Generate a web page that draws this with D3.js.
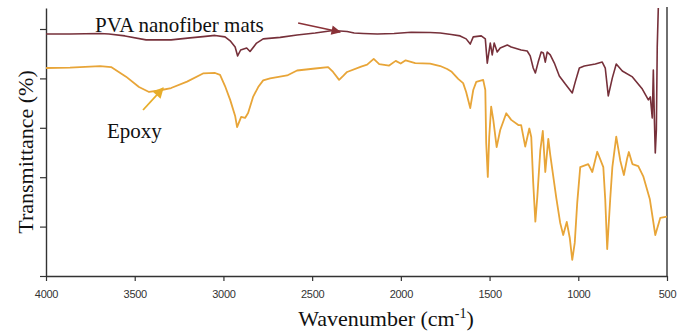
<!DOCTYPE html>
<html>
<head>
<meta charset="utf-8">
<script src="https://cdn.jsdelivr.net/npm/d3@7"></script>
<style>
  html, body { margin: 0; padding: 0; background: #fff; }
  svg { display: block; }
</style>
</head>
<body>
<div id="chart"></div>
<script>
// FTIR spectra
const xTicks = [4000, 3500, 3000, 2500, 2000, 1500, 1000, 500];
const yTicks = [0, 20, 40, 60, 80, 100];

const pvaWavenumber = [4000, 3865, 3695, 3645, 3555, 3436, 3295, 3188, 3115, 3047, 2991, 2962, 2934, 2920, 2903,
  2869, 2850, 2813, 2776, 2680, 2585, 2483, 2382, 2303, 2263, 2212, 2133, 2038, 1942, 1835, 1778, 1716, 1666,
  1632, 1609, 1592, 1547, 1524, 1513, 1496, 1485, 1474, 1457, 1440, 1400, 1378, 1322, 1288, 1271, 1254, 1242,
  1226, 1209, 1197, 1186, 1175, 1158, 1135, 1107, 1073, 1034, 1017, 994, 966, 904, 865, 848, 831, 808, 786,
  752, 695, 639, 605, 594, 583, 577, 571, 566, 560, 555, 549];
const pvaValue = [98.0, 98.0, 98.2, 98.0, 97.2, 95.6, 95.6, 96.4, 96.9, 97.4, 96.8, 95.2, 92.7, 89.1, 91.5,
  92.3, 90.9, 94.3, 96.0, 96.6, 97.6, 98.4, 99.4, 99.0, 98.4, 98.2, 98.0, 98.2, 98.7, 98.6, 98.4, 97.8, 97.2,
  96.0, 93.9, 96.8, 97.2, 96.0, 86.2, 94.3, 89.5, 94.3, 90.7, 92.3, 93.5, 92.7, 91.5, 91.1, 89.1, 84.2, 82.2,
  86.6, 90.7, 90.3, 86.6, 90.7, 89.5, 86.2, 81.0, 77.7, 74.1, 78.6, 84.2, 85.0, 85.8, 86.6, 84.2, 72.9, 80.2, 85.8,
  83.0, 80.6, 75.7, 71.3, 72.5, 64.0, 83.4, 63.2, 49.8, 59.1, 92.7, 108.5];

const epoxyWavenumber = [4000, 3865, 3695, 3633, 3549, 3476, 3419, 3363, 3295, 3205, 3115, 3047, 3019, 2991, 2962,
  2934, 2923, 2900, 2878, 2861, 2833, 2804, 2776, 2737, 2641, 2585, 2483, 2410, 2382, 2348, 2325, 2303, 2224,
  2190, 2153, 2122, 2066, 2029, 2001, 1973, 1919, 1835, 1778, 1739, 1716, 1677, 1649, 1632, 1609, 1592, 1575,
  1536, 1524, 1519, 1510, 1502, 1491, 1479, 1460, 1440, 1406, 1378, 1338, 1322, 1299, 1276, 1265, 1254, 1242,
  1231, 1214, 1200, 1186, 1169, 1158, 1124, 1102, 1085, 1065, 1048, 1034, 1020, 1006, 989, 944, 921, 893, 859,
  848, 837, 820, 808, 786, 763, 743, 724, 715, 695, 662, 633, 597, 566, 538, 500];
const epoxyValue = [84.2, 84.4, 85.0, 84.6, 80.7, 76.5, 74.5, 75.1, 76.1, 78.7, 82.0, 82.2, 81.4, 76.9, 71.3,
  64.8, 60.3, 64.4, 64.0, 66.0, 72.5, 76.5, 79.2, 80.0, 81.2, 83.2, 84.0, 84.6, 82.6, 79.4, 81.0, 82.6, 84.8,
  85.6, 87.9, 85.8, 85.2, 87.1, 86.0, 87.3, 86.2, 86.0, 85.0, 83.8, 82.8, 79.8, 78.1, 74.5, 68.0, 75.3, 78.6,
  79.4, 75.3, 53.9, 40.1, 56.3, 68.6, 63.2, 52.2, 59.1, 65.9, 63.2, 61.1, 61.1, 52.4, 59.7, 56.3, 37.7, 22.0,
  32.0, 51.0, 58.7, 42.1, 55.5, 49.0, 31.6, 21.5, 16.6, 21.9, 15.4, 6.5, 13.4, 29.6, 44.1, 45.3, 42.1, 50.3, 44.1,
  30.8, 10.9, 31.2, 44.1, 56.4, 46.6, 40.9, 47.8, 50.2, 45.3, 44.5, 40.2, 31.2, 16.6, 23.5, 24.0];

const pvaColor = '#76303a';
const epoxyColor = '#e8a538';

const width = 685;
const height = 331;
const margin = { top: 8, right: 18, bottom: 55, left: 46 };

const svg = d3.select('#chart').append('svg')
  .attr('width', width)
  .attr('height', height);

const x = d3.scaleLinear()
  .domain([4000, 500])
  .range([margin.left, width - margin.right]);

const y = d3.scaleLinear()
  .domain([0, 108.5])
  .range([height - margin.bottom, margin.top]);

// x axis
const xAxis = svg.append('g')
  .attr('transform', 'translate(0,' + y(0) + ')')
  .call(d3.axisBottom(x).tickValues(xTicks).tickFormat(d3.format('d'))
    .tickSize(5).tickSizeOuter(0).tickPadding(9));
xAxis.select('.domain').attr('stroke', '#333').attr('stroke-width', 1.4);
xAxis.selectAll('.tick line').attr('stroke', '#333').attr('stroke-width', 1.2);
xAxis.selectAll('.tick text')
  .attr('fill', '#333')
  .style('font-family', '"Liberation Sans", Arial, sans-serif')
  .style('font-size', '11px')
  .style('letter-spacing', '-0.3px');

// y axis, ticks only
const yAxis = svg.append('g')
  .attr('transform', 'translate(' + x(4000) + ',0)')
  .call(d3.axisLeft(y).tickValues(yTicks).tickSize(6).tickSizeOuter(0).tickFormat(''));
yAxis.select('.domain').attr('stroke', '#333').attr('stroke-width', 1.4);
yAxis.selectAll('.tick line').attr('stroke', '#333').attr('stroke-width', 1.2);

// right frame line
svg.append('line')
  .attr('x1', x(500)).attr('x2', x(500))
  .attr('y1', y(0)).attr('y2', y(108.5) - 1)
  .attr('stroke', '#333')
  .attr('stroke-width', 1.4);

const line = d3.line()
  .x(d => x(d[0]))
  .y(d => y(d[1]));

svg.append('path')
  .datum(d3.zip(epoxyWavenumber, epoxyValue))
  .attr('d', line)
  .attr('fill', 'none')
  .attr('stroke', epoxyColor)
  .attr('stroke-width', 1.8)
  .attr('stroke-linejoin', 'round');

svg.append('path')
  .datum(d3.zip(pvaWavenumber, pvaValue))
  .attr('d', line)
  .attr('fill', 'none')
  .attr('stroke', pvaColor)
  .attr('stroke-width', 1.6)
  .attr('stroke-linejoin', 'round');

// arrow heads
const defs = svg.append('defs');
[['arrPva', '#8a3238'], ['arrEpoxy', '#e7ad2a']].forEach(([id, c]) => {
  defs.append('marker')
    .attr('id', id)
    .attr('viewBox', '0 0 10 10')
    .attr('refX', 9).attr('refY', 5)
    .attr('markerWidth', 7).attr('markerHeight', 6)
    .attr('markerUnits', 'strokeWidth')
    .attr('orient', 'auto')
    .append('path')
    .attr('d', 'M0,0L10,5L0,10z')
    .attr('fill', c);
});

svg.append('line')
  .attr('x1', x(2579)).attr('y1', y(102.4))
  .attr('x2', x(2342)).attr('y2', y(98.8))
  .attr('stroke', '#8a3238')
  .attr('stroke-width', 1.6)
  .attr('marker-end', 'url(#arrPva)');

svg.append('line')
  .attr('x1', x(3453)).attr('y1', y(67.2))
  .attr('x2', x(3340)).attr('y2', y(76.1))
  .attr('stroke', '#e7ad2a')
  .attr('stroke-width', 1.8)
  .attr('marker-end', 'url(#arrEpoxy)');

// labels
const serif = '"Liberation Serif", "Times New Roman", serif';

svg.append('text')
  .attr('x', 95).attr('y', 32)
  .style('font-family', serif).style('font-size', '21px')
  .attr('fill', '#111')
  .text('PVA nanofiber mats');

svg.append('text')
  .attr('x', 107).attr('y', 138)
  .style('font-family', serif).style('font-size', '21px')
  .attr('fill', '#111')
  .text('Epoxy');

svg.append('text')
  .attr('transform', 'translate(33,152) rotate(-90)')
  .style('font-family', serif).style('font-size', '22px')
  .style('text-anchor', 'middle')
  .attr('fill', '#111')
  .text('Transmittance (%)');

const xl = svg.append('text')
  .attr('x', 386).attr('y', 326)
  .style('font-family', serif).style('font-size', '22px')
  .style('text-anchor', 'middle')
  .attr('fill', '#111');
xl.append('tspan').text('Wavenumber (cm');
xl.append('tspan').attr('dy', -8).style('font-size', '14px').text('-1');
xl.append('tspan').attr('dy', 8).text(')');
</script>
</body>
</html>
